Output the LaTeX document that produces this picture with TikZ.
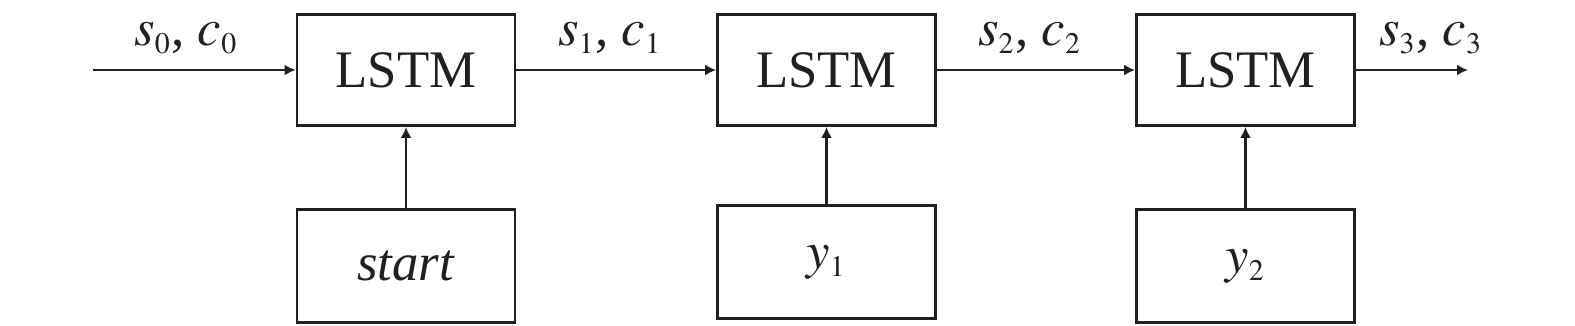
\documentclass[tikz,border=0pt]{standalone}
\usepackage{mathptmx}
\usepackage{fontspec}
\setmainfont{Liberation Serif}
\DeclareMathSizes{15}{15}{8.5}{6.5}
\usepackage{tikz}
\usetikzlibrary{arrows.meta,positioning}
\definecolor{ink}{HTML}{231F20}
\tikzset{
  cellbox/.style={draw=ink,line width=0.8pt,minimum width=2.18cm,minimum height=1.11cm,inner sep=0pt,align=center},
  tokbox/.style={cellbox,minimum height=1.13cm},
  arr/.style={-{Latex[length=1.1mm,width=1.1mm]},line width=0.8pt,draw=ink},
  lbl/.style={above=1.5mm,inner sep=0pt,text=ink}
}

\begin{document}
\begin{tikzpicture}[font=\fontsize{15}{18}\selectfont,text=ink]
  \useasboundingbox (0,0) rectangle (15.75,-3.25);
  \node[cellbox] (c1) at (4.06,-0.70) {LSTM};
  \node[cellbox] (c2) at (8.265,-0.70) {LSTM};
  \node[cellbox] (c3) at (12.455,-0.70) {LSTM};
  \node[tokbox] (t1) at (4.06,-2.66) {\textit{start}};
  \node[tokbox] (t2) at (8.265,-2.62) {$y_1$};
  \node[tokbox] (t3) at (12.455,-2.66) {$y_2$};
  \coordinate (in) at (0.93,-0.70);
  \coordinate (out) at (14.68,-0.70);
  \draw[arr] (in) -- node[lbl,pos=0.46] {$s_0$, $c_0$} (c1.west);
  \draw[arr] (c1.east) -- node[lbl,pos=0.47] {$s_1$, $c_1$} (c2.west);
  \draw[arr] (c2.east) -- node[lbl,pos=0.47] {$s_2$, $c_2$} (c3.west);
  \draw[arr] (c3.east) -- node[lbl,pos=0.67] {$s_3$, $c_3$} (out);
  \draw[arr] (t1.north) -- (c1.south);
  \draw[arr] (t2.north) -- (c2.south);
  \draw[arr] (t3.north) -- (c3.south);
\end{tikzpicture}
\end{document}
